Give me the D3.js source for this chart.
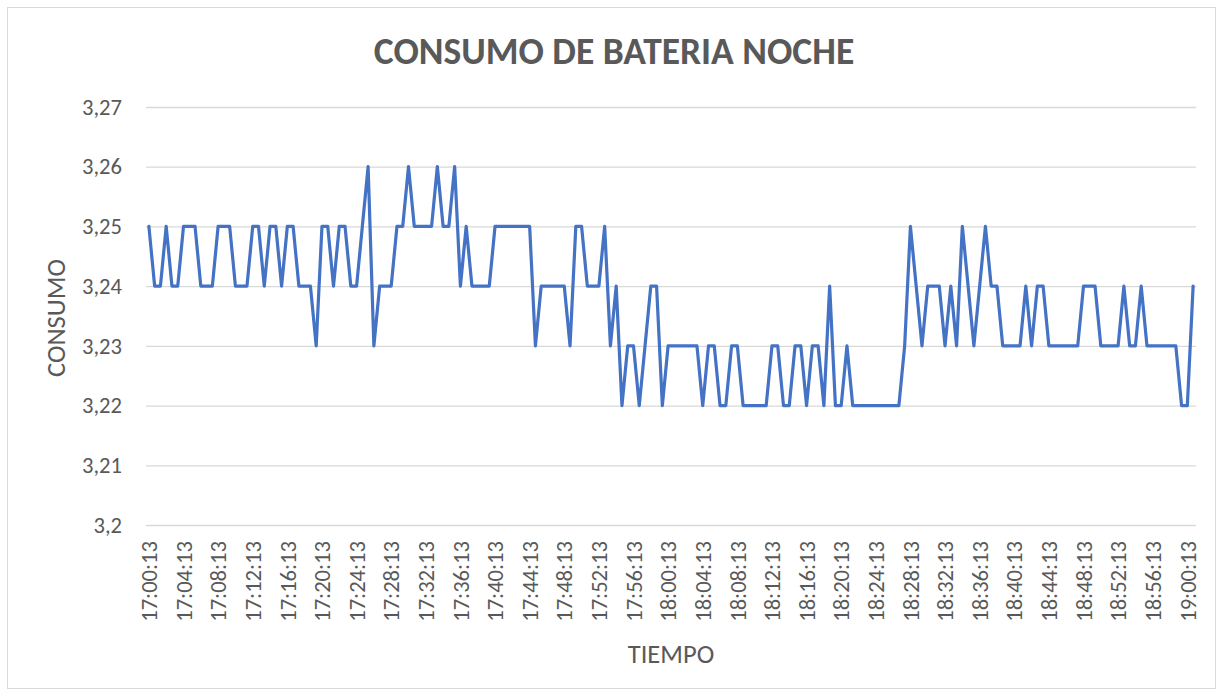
<!DOCTYPE html>
<html>
<head>
<meta charset="utf-8">
<script src="https://cdn.jsdelivr.net/npm/d3@7"></script>
<style>
  html, body { margin: 0; padding: 0; background: #fff; }
  svg { display: block; }
  text { font-family: Calibri, Carlito, "Open Sans", sans-serif; fill: #595959; }
</style>
</head>
<body>
<svg id="chart" width="1223" height="696"></svg>
<script>
// Battery voltage readings, one every 40 s from 17:00:13
const startTime = "17:00:13";
const stepSeconds = 40;
const values = [
  3.25,3.24,3.24,3.25,3.24,3.24,3.25,3.25,3.25,3.24,
  3.24,3.24,3.25,3.25,3.25,3.24,3.24,3.24,3.25,3.25,
  3.24,3.25,3.25,3.24,3.25,3.25,3.24,3.24,3.24,3.23,
  3.25,3.25,3.24,3.25,3.25,3.24,3.24,3.25,3.26,3.23,
  3.24,3.24,3.24,3.25,3.25,3.26,3.25,3.25,3.25,3.25,
  3.26,3.25,3.25,3.26,3.24,3.25,3.24,3.24,3.24,3.24,
  3.25,3.25,3.25,3.25,3.25,3.25,3.25,3.23,3.24,3.24,
  3.24,3.24,3.24,3.23,3.25,3.25,3.24,3.24,3.24,3.25,
  3.23,3.24,3.22,3.23,3.23,3.22,3.23,3.24,3.24,3.22,
  3.23,3.23,3.23,3.23,3.23,3.23,3.22,3.23,3.23,3.22,
  3.22,3.23,3.23,3.22,3.22,3.22,3.22,3.22,3.23,3.23,
  3.22,3.22,3.23,3.23,3.22,3.23,3.23,3.22,3.24,3.22,
  3.22,3.23,3.22,3.22,3.22,3.22,3.22,3.22,3.22,3.22,
  3.22,3.23,3.25,3.24,3.23,3.24,3.24,3.24,3.23,3.24,
  3.23,3.25,3.24,3.23,3.24,3.25,3.24,3.24,3.23,3.23,
  3.23,3.23,3.24,3.23,3.24,3.24,3.23,3.23,3.23,3.23,
  3.23,3.23,3.24,3.24,3.24,3.23,3.23,3.23,3.23,3.24,
  3.23,3.23,3.24,3.23,3.23,3.23,3.23,3.23,3.23,3.22,
  3.22,3.24
];
const xTickLabels = [
  "17:00:13","17:04:13","17:08:13","17:12:13","17:16:13","17:20:13","17:24:13","17:28:13",
  "17:32:13","17:36:13","17:40:13","17:44:13","17:48:13","17:52:13","17:56:13","18:00:13",
  "18:04:13","18:08:13","18:12:13","18:16:13","18:20:13","18:24:13","18:28:13","18:32:13",
  "18:36:13","18:40:13","18:44:13","18:48:13","18:52:13","18:56:13","19:00:13"
];
const yTickValues = [3.2, 3.21, 3.22, 3.23, 3.24, 3.25, 3.26, 3.27];
const titleText = "CONSUMO DE BATERIA NOCHE";
const xTitle = "TIEMPO";
const yTitle = "CONSUMO";

// Timestamps for each reading (category labels)
function toSeconds(t) { const [h, m, s] = t.split(":").map(Number); return h * 3600 + m * 60 + s; }
function toClock(sec) {
  const h = Math.floor(sec / 3600), m = Math.floor((sec % 3600) / 60), s = sec % 60;
  return `${h}:${String(m).padStart(2, "0")}:${String(s).padStart(2, "0")}`;
}
const t0 = toSeconds(startTime);
const times = values.map((_, i) => toClock(t0 + i * stepSeconds));
const data = values.map((v, i) => ({ time: times[i], value: v }));

const svg = d3.select("#chart");
const W = 1223, H = 696;
const plot = { left: 146, right: 1196, top: 107, bottom: 525 };
const FONT = 'Calibri, Carlito, "Open Sans", sans-serif';

// Chart frame
svg.append("rect")
  .attr("x", 7.5).attr("y", 7.5)
  .attr("width", W - 15).attr("height", H - 15)
  .attr("fill", "#fff").attr("stroke", "#d9d9d9").attr("stroke-width", 1);

const x = d3.scalePoint().domain(times).range([plot.left, plot.right]).padding(0.5);
const y = d3.scaleLinear().domain([3.2, 3.27]).range([plot.bottom, plot.top]);

const fmt = v => String(+v.toFixed(2)).replace(".", ",");

// Horizontal gridlines + value labels
const yAxis = d3.axisLeft(y).tickValues(yTickValues).tickFormat(fmt)
  .tickSize(-(plot.right - plot.left)).tickPadding(24);
const gy = svg.append("g").attr("transform", `translate(${plot.left},0)`).call(yAxis);
gy.select(".domain").remove();
gy.selectAll(".tick line").attr("stroke", "#d9d9d9").attr("stroke-width", 1.3);
gy.selectAll(".tick text").attr("font-size", "22.6px").attr("fill", "#595959")
  .style("font-family", FONT);

// Category axis with rotated time labels
const xAxis = d3.axisBottom(x).tickValues(xTickLabels).tickSize(0).tickPadding(0);
const gx = svg.append("g").attr("transform", `translate(0,${plot.bottom})`).call(xAxis);
gx.select(".domain").remove();
gx.selectAll(".tick text")
  .attr("font-size", "22.6px").attr("fill", "#595959")
  .style("font-family", FONT)
  .attr("text-anchor", "end")
  .attr("transform", "translate(0,16) rotate(-90)")
  .attr("x", 0).attr("y", 0).attr("dy", "0.34em");

// Voltage line
const line = d3.line().x(d => x(d.time)).y(d => y(d.value));
svg.append("path").datum(data)
  .attr("d", line)
  .attr("fill", "none")
  .attr("stroke", "#4472c4")
  .attr("stroke-width", 3.2)
  .attr("stroke-linejoin", "round")
  .attr("stroke-linecap", "round");

// Titles
svg.append("text").attr("x", 614).attr("y", 64)
  .attr("text-anchor", "middle").attr("font-size", "37.5px").attr("font-weight", "bold")
  .text(titleText);
svg.append("text").attr("x", 671).attr("y", 663)
  .attr("text-anchor", "middle").attr("font-size", "26.5px")
  .text(xTitle);
svg.append("text").attr("transform", "translate(56,318) rotate(-90)")
  .attr("text-anchor", "middle").attr("dy", "0.34em").attr("font-size", "26.5px")
  .text(yTitle);
</script>
</body>
</html>
